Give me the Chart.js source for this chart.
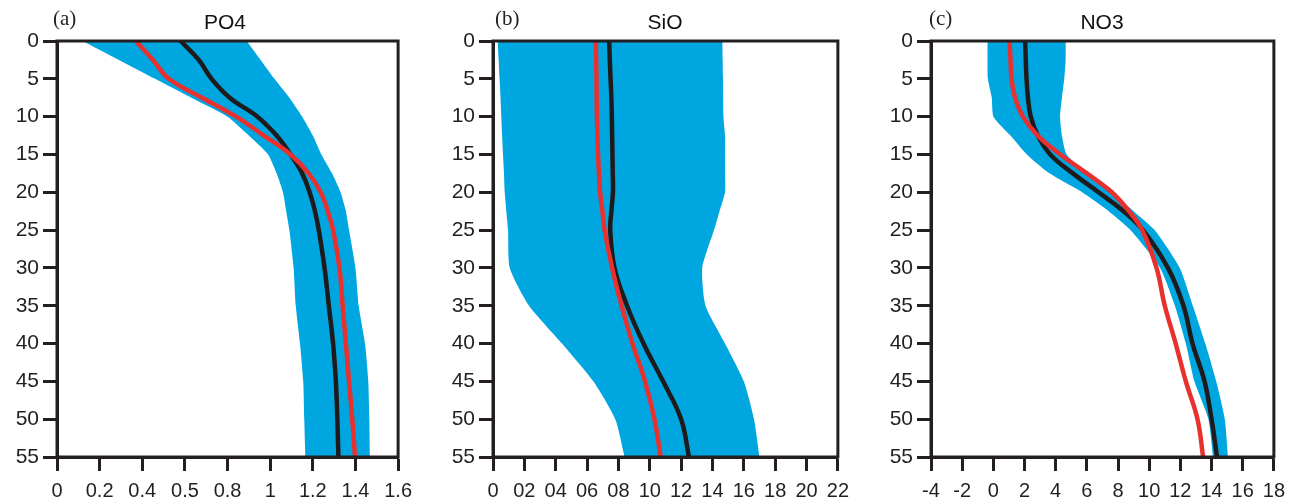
<!DOCTYPE html>
<html><head><meta charset="utf-8">
<script src="https://cdn.jsdelivr.net/npm/chart.js@4/dist/chart.umd.min.js"></script>
<style>
html,body{margin:0;padding:0;background:#fff;overflow:hidden;width:1293px;height:504px}
.panel{position:absolute;top:0}
.lbl{position:absolute;font-family:"Liberation Serif","Times New Roman",serif;font-size:21px;color:#231f20;line-height:1;white-space:nowrap}
.ttl{position:absolute;font-family:"Liberation Sans",Arial,sans-serif;font-size:21px;color:#111;line-height:1;transform:translateX(-50%);white-space:nowrap}
</style></head><body>
<div class="panel" style="left:0px"><canvas id="ca" width="420" height="504"></canvas></div>
<div class="panel" style="left:436px"><canvas id="cb" width="421" height="504"></canvas></div>
<div class="panel" style="left:874px"><canvas id="cc" width="419" height="504"></canvas></div>
<div class="lbl" style="left:53px;top:8px">(a)</div>
<div class="ttl" style="left:225px;top:11px">PO4</div>
<div class="lbl" style="left:495px;top:8px">(b)</div>
<div class="ttl" style="left:665px;top:11px">SiO</div>
<div class="lbl" style="left:929px;top:8px">(c)</div>
<div class="ttl" style="left:1102px;top:11px">NO3</div>
<script>
// Depth levels (m) shared by every profile
const depths = [0, 2.5, 5, 7.5, 10, 12.5, 15, 17.5, 20, 22.5, 25, 30, 35, 40, 45, 50, 55];

// (a) PO4
const po4Black = [0.58, 0.665, 0.725, 0.81, 0.94, 1.03, 1.095, 1.15, 1.185, 1.21, 1.228, 1.255, 1.275, 1.295, 1.308, 1.315, 1.32];
const po4Red   = [0.37, 0.45, 0.525, 0.68, 0.84, 0.97, 1.095, 1.18, 1.237, 1.27, 1.295, 1.325, 1.34, 1.355, 1.37, 1.385, 1.398];
const po4Min   = [0.12, 0.29, 0.46, 0.63, 0.80, 0.90, 0.99, 1.03, 1.06, 1.075, 1.09, 1.11, 1.12, 1.14, 1.155, 1.16, 1.165];
const po4Max   = [0.89, 0.955, 1.02, 1.09, 1.15, 1.20, 1.24, 1.29, 1.33, 1.355, 1.37, 1.40, 1.415, 1.445, 1.46, 1.465, 1.468];
const po4Ticks = ['0', '0.2', '0.4', '0.5', '0.8', '1', '1.2', '1.4', '1.6'];

// (b) SiO
const sioBlack = [7.41, 7.45, 7.5, 7.55, 7.58, 7.6, 7.62, 7.64, 7.65, 7.55, 7.48, 7.75, 8.55, 9.6, 10.85, 12.0, 12.5];
const sioRed   = [6.56, 6.58, 6.6, 6.61, 6.63, 6.66, 6.7, 6.76, 6.83, 6.98, 7.12, 7.6, 8.2, 8.9, 9.7, 10.3, 10.7];
const sioMin   = [0.30, 0.36, 0.42, 0.48, 0.53, 0.58, 0.64, 0.70, 0.75, 0.85, 0.96, 1.07, 2.3, 4.4, 6.4, 7.8, 8.4];
const sioMax   = [14.63, 14.65, 14.67, 14.68, 14.7, 14.8, 14.8, 14.8, 14.8, 14.45, 14.1, 13.35, 13.56, 14.8, 16.0, 16.65, 17.0];
const sioTicks = ['0', '02', '04', '06', '08', '10', '12', '14', '16', '18', '20', '22'];

// (c) NO3
const no3Black = [2.04, 2.08, 2.13, 2.22, 2.4, 2.85, 3.65, 5.1, 6.75, 8.35, 9.6, 11.2, 12.2, 12.78, 13.55, 14.0, 14.35];
const no3Red   = [1.04, 1.1, 1.17, 1.4, 1.9, 2.85, 4.3, 6.0, 7.6, 8.7, 9.55, 10.47, 11.0, 11.7, 12.35, 13.1, 13.46];
const no3Min   = [-0.37, -0.37, -0.35, -0.1, 0.01, 1.1, 2.15, 3.6, 5.7, 7.4, 8.8, 10.7, 11.65, 12.35, 12.9, 13.8, 14.1];
const no3Max   = [4.64, 4.64, 4.55, 4.4, 4.28, 4.4, 4.7, 6.0, 7.6, 9.0, 10.35, 11.96, 12.8, 13.6, 14.3, 14.85, 15.06];
const no3Ticks = ['-4', '-2', '0', '2', '4', '6', '8', '10', '12', '14', '16', '18'];

const BLUE = '#00a6e0', RED = '#e8312f', BLACK = '#1e1b1c', AXIS = '#231f20';
const FONT = '"Liberation Sans", Arial, sans-serif';

const pts = vals => vals.map((v, i) => ({x: v, y: depths[i]}));

const frame = {
  id: 'frame',
  afterDatasetsDraw(chart) {
    const a = chart.chartArea, c = chart.ctx;
    c.save();
    c.strokeStyle = AXIS; c.lineWidth = 3;
    c.strokeRect(a.left, a.top, a.right - a.left, a.bottom - a.top);
    c.restore();
  }
};

function make(id, black, red, lo, hi, xmin, xmax, step, labels) {
  const line = (data, color, order) => ({
    data: pts(data), borderColor: color, borderWidth: 4.5, pointRadius: 0,
    tension: 0.4, fill: false, order, borderCapStyle: 'butt'
  });
  new Chart(document.getElementById(id), {
    type: 'line',
    data: {
      datasets: [
        {data: pts(lo), borderWidth: 0, borderColor: 'rgba(0,0,0,0)', pointRadius: 0, fill: false,
         tension: 0.2, order: 5},
        {data: pts(hi), borderWidth: 0, borderColor: 'rgba(0,0,0,0)', backgroundColor: BLUE, pointRadius: 0, fill: '-1',
         tension: 0.2, order: 4},
        line(black, BLACK, 1),
        line(red, RED, 0)
      ]
    },
    options: {
      indexAxis: 'y',
      responsive: false,
      animation: false,
      events: [],
      layout: {padding: {top: 41, right: 19, bottom: 0, left: 0}},
      plugins: {legend: {display: false}, tooltip: {enabled: false}, title: {display: false}},
      scales: {
        x: {
          type: 'linear', position: 'bottom', min: xmin, max: xmax,
          afterFit: s => { s.height = 47; },
          afterBuildTicks: s => { s.ticks = labels.map((_, i) => ({value: xmin + i * step})); },
          ticks: {autoSkip: false, maxRotation: 0, padding: 8, color: AXIS, font: {family: FONT, size: 20},
                  callback: (v, i) => labels[i]},
          grid: {drawOnChartArea: false, drawTicks: true, tickLength: 14, tickWidth: 3, tickColor: AXIS},
          border: {display: true, width: 3, color: AXIS}
        },
        y: {
          type: 'linear', position: 'left', min: 0, max: 55, reverse: true,
          afterFit: s => { s.width = 57; },
          ticks: {stepSize: 5, padding: 4, color: AXIS, font: {family: FONT, size: 21}},
          grid: {drawOnChartArea: false, drawTicks: true, tickLength: 14, tickWidth: 3, tickColor: AXIS},
          border: {display: true, width: 3, color: AXIS}
        }
      }
    },
    plugins: [frame]
  });
}

make('ca', po4Black, po4Red, po4Min, po4Max, 0, 1.6, 0.2, po4Ticks);
make('cb', sioBlack, sioRed, sioMin, sioMax, 0, 22, 2, sioTicks);
make('cc', no3Black, no3Red, no3Min, no3Max, -4, 18, 2, no3Ticks);
</script>
</body></html>
